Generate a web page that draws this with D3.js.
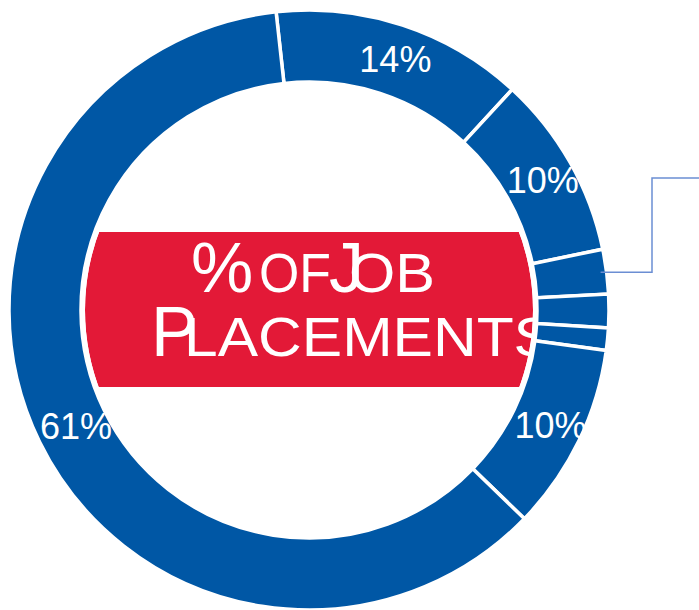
<!DOCTYPE html>
<html>
<head>
<meta charset="utf-8">
<script src="https://cdn.jsdelivr.net/npm/d3@7"></script>
<style>
  html, body { margin: 0; padding: 0; background: #fff; }
  #chart { width: 699px; height: 610px; overflow: hidden; }
</style>
</head>
<body>
<div id="chart"></div>
<script>
// slice shares, clockwise from the top-left boundary
var shares = [13.6, 9.9, 2.4, 1.8, 1.2, 10.1, 61.0];
var shareLabels = ["14%", "10%", "", "", "", "10%", "61%"];
var calloutSlice = 2;

var width = 699, height = 610;
var cx = 309, cy = 310;
var outerR = 300, innerR = 228;
var blue = "#0057a5", red = "#e31937";

var svg = d3.select("#chart").append("svg")
    .attr("width", width)
    .attr("height", height);

var g = svg.append("g")
    .attr("transform", "translate(" + cx + "," + cy + ")");

var start = -6.3 * Math.PI / 180;
var pie = d3.pie().sort(null).value(d => d)
    .startAngle(start)
    .endAngle(start + 2 * Math.PI);
var arcs = pie(shares);

var arc = d3.arc().innerRadius(innerR).outerRadius(outerR);

// clip for the title block (inside the hole)
svg.append("defs").append("clipPath")
    .attr("id", "hole")
    .append("circle")
    .attr("r", innerR - 4);

var title = g.append("g");
title.append("rect")
    .attr("x", -innerR)
    .attr("y", 232 - cy)
    .attr("width", innerR * 2)
    .attr("height", 387 - 232)
    .attr("fill", red)
    .attr("clip-path", "url(#hole)");

// title text, small caps style
var big = 70, small = 56;
// [text, size, x, fitted width]
var line1 = [["%", big, 191, 0], ["OF", small, 259, 72], ["J", big, 329, 0], ["OB", small, 349, 86]];
var line2 = [["P", big, 151, 0], ["LACEMENTS", small, 184, 370]];

function drawLine(parts, baseline) {
    parts.forEach(function (p) {
        var t = title.append("text")
            .attr("x", p[2] - cx)
            .attr("y", baseline - cy)
            .attr("fill", "#fff")
            .attr("font-family", "Liberation Sans, Arial, sans-serif")
            .attr("font-size", p[1])
            .text(p[0]);
        if (p[3]) t.attr("textLength", p[3]).attr("lengthAdjust", "spacingAndGlyphs");
    });
}
drawLine(line1, 292);
drawLine(line2, 356);

// ring
g.selectAll("path.slice")
    .data(arcs)
    .enter()
    .append("path")
    .attr("class", "slice")
    .attr("d", arc)
    .attr("fill", blue)
    .attr("stroke", "#fff")
    .attr("stroke-width", 3.5)
    .attr("stroke-linejoin", "miter");

// white ring between hole and title block
g.append("circle")
    .attr("r", innerR - 2)
    .attr("fill", "none")
    .attr("stroke", "#fff")
    .attr("stroke-width", 4);

g.selectAll("text.pct")
    .data(arcs.filter((d, i) => shareLabels[i] !== ""))
    .enter()
    .append("text")
    .attr("class", "pct")
    .attr("transform", d => "translate(" + arc.centroid(d) + ")")
    .attr("dx", 4)
    .attr("dy", "0.35em")
    .attr("text-anchor", "middle")
    .attr("fill", "#fff")
    .attr("font-family", "Liberation Sans, Arial, sans-serif")
    .attr("font-size", 36)
    .text(d => shareLabels[d.index]);

// callout leader from the small slice
var cs = arcs[calloutSlice];
var mid = (cs.startAngle + cs.endAngle) / 2;
var p0 = [Math.sin(mid) * (outerR - 6), -Math.cos(mid) * (outerR - 6)];
var elbowX = 652 - cx, topY = 178 - cy;
g.append("path")
    .attr("d", d3.line()([p0, [elbowX, p0[1]], [elbowX, topY], [width - cx, topY]]))
    .attr("fill", "none")
    .attr("stroke", "#6b8ed3")
    .attr("stroke-width", 1.5);
</script>
</body>
</html>
